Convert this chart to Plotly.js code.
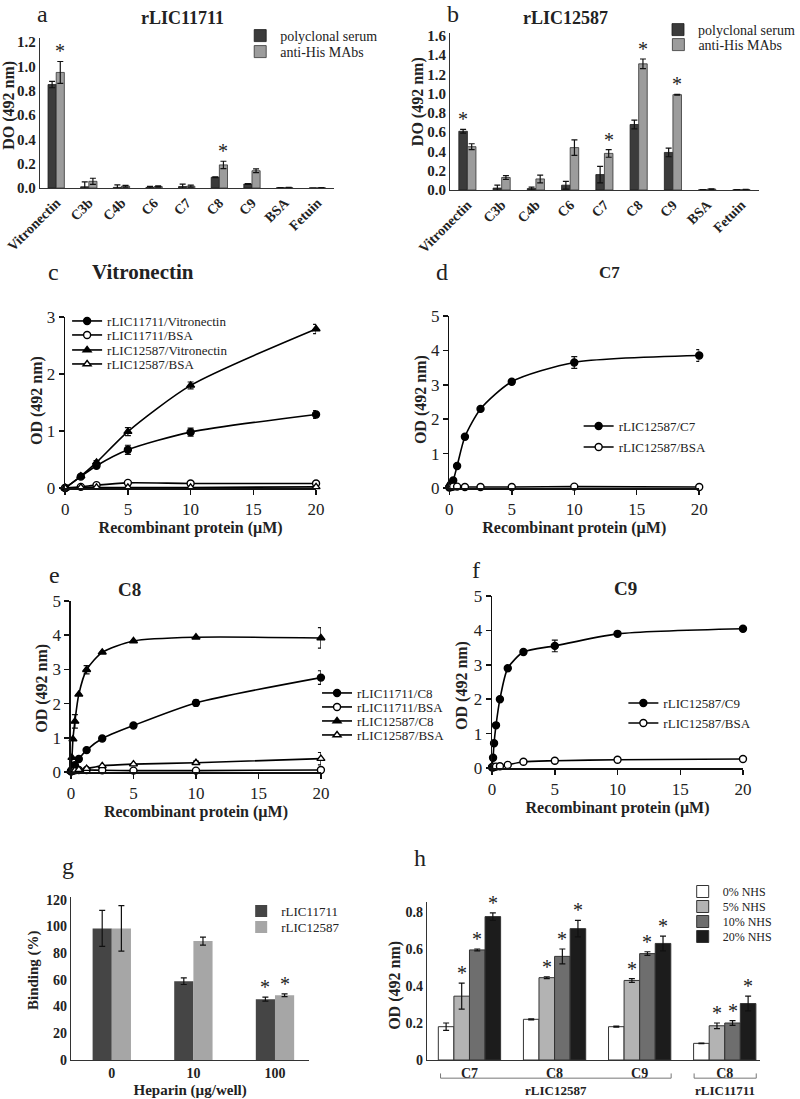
<!DOCTYPE html>
<html><head><meta charset="utf-8">
<script src="https://cdn.plot.ly/plotly-3.0.1.min.js"></script>
<style>body{margin:0;background:#fff}</style>
</head><body><div id="chart" style="width:800px;height:1099px"></div>
<script>
// ---------- DATA ----------
const barCats = ['Vitronectin','C3b','C4b','C6','C7','C8','C9','BSA','Fetuin'];
// panel a: rLIC11711
const aPoly    = [0.85,0.01,0.005,0.005,0.012,0.088,0.033,0.002,0.0];
const aPolyErr = [0.026,0.04,0.02,0.008,0.02,0.003,0.004,0.002,0.0];
const aHis     = [0.95,0.055,0.015,0.012,0.015,0.19,0.142,0.003,0.002];
const aHisErr  = [0.09,0.025,0.007,0.005,0.008,0.03,0.015,0.002,0.001];
const aPolySig = [0,0,0,0,0,0,0,0,0];
const aHisSig  = [1,0,0,0,0,1,0,0,0];
// panel b: rLIC12587
const bPoly    = [0.61,0.02,0.015,0.05,0.16,0.68,0.39,0.002,0.002];
const bPolyErr = [0.02,0.03,0.015,0.04,0.085,0.045,0.045,0.001,0.001];
const bHis     = [0.45,0.13,0.115,0.44,0.38,1.31,0.99,0.01,0.005];
const bHisErr  = [0.03,0.02,0.04,0.08,0.04,0.05,0.004,0.003,0.002];
const bPolySig = [1,0,0,0,0,0,0,0,0];
const bHisSig  = [0,0,0,0,1,1,1,0,0];
// panel c: Vitronectin binding
const cConc = [0,1.25,2.5,5,10,20];
const c11711Vn    = [0,0.2,0.39,0.67,0.98,1.29];
const c11711VnErr = [0,0.02,0.03,0.08,0.07,0.07];
const c11711Bsa   = [0,0.02,0.05,0.09,0.08,0.08];
const c12587Vn    = [0,0.21,0.45,0.99,1.8,2.79];
const c12587VnErr = [0,0.02,0.03,0.07,0.06,0.08];
const c12587Bsa   = [0,0.01,0.01,0.01,0.01,0.02];
// panels d-f: complement components
const conc = [0,0.078,0.156,0.3125,0.625,1.25,2.5,5,10,20];
const dC7     = [0.02,0.07,0.12,0.22,0.64,1.49,2.3,3.09,3.65,3.85];
const dC7Err  = [0,0,0,0,0,0,0,0.03,0.17,0.17];
const dBsa    = [0.02,0.03,0.03,0.04,0.04,0.03,0.03,0.03,0.04,0.03];
const e11711C8    = [0.02,0.06,0.12,0.2,0.38,0.64,0.98,1.36,2.02,2.76];
const e11711C8Err = [0,0,0,0,0,0,0,0,0.08,0.2];
const e11711Bsa   = [0.02,0.03,0.04,0.05,0.06,0.06,0.05,0.04,0.04,0.06];
const e12587C8    = [0.05,0.42,0.96,1.48,2.27,2.99,3.5,3.83,3.94,3.92];
const e12587C8Err = [0,0,0,0.2,0,0.12,0,0,0,0.3];
const e12587Bsa   = [0.02,0.03,0.04,0.05,0.07,0.1,0.18,0.23,0.27,0.39];
const e12587BsaErr= [0,0,0,0,0,0,0,0,0.05,0.18];
const fC9     = [0.02,0.3,0.72,1.24,2.0,2.9,3.37,3.55,3.9,4.05];
const fC9Err  = [0,0,0,0,0,0,0,0.17,0,0.05];
const fBsa    = [0.02,0.02,0.03,0.04,0.05,0.09,0.18,0.21,0.24,0.26];
// panel g: heparin inhibition
const gCats = ['0','10','100'];
const g11711    = [98.5,59,45.5];
const g11711Err = [13.5,2.5,1.5];
const g12587    = [98.5,89,48.5];
const g12587Err = [17,3,1];
const g11711Sig = [0,0,1];
const g12587Sig = [0,0,1];
// panel h: NHS
const hCats = ['C7','C8','C9','C8'];
const hGroups = ['rLIC12587','rLIC11711'];
const hSeries = ['0% NHS','5% NHS','10% NHS','20% NHS'];
const h0  = [0.18,0.22,0.18,0.09];
const h0e = [0.02,0.003,0.003,0.002];
const h5  = [0.345,0.445,0.43,0.185];
const h5e = [0.07,0.005,0.01,0.015];
const h10 = [0.595,0.56,0.575,0.2];
const h10e= [0.005,0.04,0.01,0.013];
const h20 = [0.775,0.71,0.63,0.305];
const h20e= [0.02,0.045,0.04,0.04];
const hSig = [[0,0,0,0],[1,1,1,1],[1,1,1,1],[1,1,1,1]];

// ---------- HELPERS ----------
const W = 800, H = 1099;
const SERIF = '"Liberation Serif", "Times New Roman", serif';
const X = p => p / W;
const Y = p => 1 - p / H;
const idx = arr => arr.map((_, i) => i);
const traces = [];
const annotations = [];
const shapes = [];
const layout = {};
let legCount = 0;

// each legend entry gets its own legend box, placed at (text start x, row centre y)
function newLegend(textX, rowY, size, isBar){
  legCount += 1;
  const key = legCount === 1 ? 'legend' : 'legend' + legCount;
  layout[key] = {x:X(textX - (isBar ? 33 : 38)), y:Y(rowY - 15), xanchor:'left', yanchor:'top',
    bgcolor:'rgba(0,0,0,0)', borderwidth:0, font:{family:SERIF, size:size, color:'#222'},
    itemwidth:30, tracegroupgap:0, itemclick:false, itemdoubleclick:false};
  return key;
}

function errObj(arr){ return {type:'data', array:arr, visible:true, color:'#111', thickness:1.2, width:3}; }

function barTrace(xa, ya, cats, vals, errs, name, color, lineColor, lineW, width, offset, legend){
  return {type:'bar', xaxis:xa, yaxis:ya, x:idx(cats), y:vals, name:name,
    width:width, offset:offset, legend:legend,
    marker:{color:color, line:{color:lineColor, width:lineW}},
    error_y:errObj(errs), hoverinfo:'skip'};
}
function stars(xa, ya, vals, errs, sig, width, offset){
  sig.forEach((s, i) => {
    if (!s) return;
    annotations.push({xref:xa, yref:ya, x:i + offset + width/2, y:vals[i] + errs[i],
      text:'*', showarrow:false, yanchor:'bottom', yshift:-3,
      font:{family:SERIF, size:20, color:'#222'}});
  });
}
function lineTrace(xa, ya, xs, ys, errs, name, symbol, open, legend){
  return {type:'scatter', mode:'lines+markers', xaxis:xa, yaxis:ya, x:xs, y:ys, name:name, legend:legend,
    line:{color:'#000', width:1.6, shape:'spline', smoothing:0.7},
    marker:{symbol:symbol, size:7, color: open ? '#fff' : '#000', line:{color:'#000', width:1.4}},
    error_y: errs ? errObj(errs) : undefined, cliponaxis:false, hoverinfo:'skip'};
}

// ---------- PANEL a ----------
traces.push(barTrace('x','y',barCats,aPoly,aPolyErr,'polyclonal serum','#3b3b3b','#1a1a1a',0.8,0.25,-0.25,newLegend(280,35,14,true)));
traces.push(barTrace('x','y',barCats,aHis,aHisErr,'anti-His MAbs','#9c9c9c','#333',0.8,0.25,0,newLegend(280,51,14,true)));
stars('x','y',aPoly,aPolyErr,aPolySig,0.25,-0.25);
stars('x','y',aHis,aHisErr,aHisSig,0.25,0);
// ---------- PANEL b ----------
traces.push(barTrace('x2','y2',barCats,bPoly,bPolyErr,'polyclonal serum','#3b3b3b','#1a1a1a',0.8,0.25,-0.25,newLegend(710,29,14,true)));
traces.push(barTrace('x2','y2',barCats,bHis,bHisErr,'anti-His MAbs','#9c9c9c','#333',0.8,0.25,0,newLegend(710,44,14,true)));
stars('x2','y2',bPoly,bPolyErr,bPolySig,0.25,-0.25);
stars('x2','y2',bHis,bHisErr,bHisSig,0.25,0);
// ---------- PANEL c ----------
traces.push(lineTrace('x3','y3',cConc,c11711Vn,c11711VnErr,'rLIC11711/Vitronectin','circle',false,newLegend(107,321,13)));
traces.push(lineTrace('x3','y3',cConc,c11711Bsa,null,'rLIC11711/BSA','circle',true,newLegend(107,335,13)));
traces.push(lineTrace('x3','y3',cConc,c12587Vn,c12587VnErr,'rLIC12587/Vitronectin','triangle-up',false,newLegend(107,350,13)));
traces.push(lineTrace('x3','y3',cConc,c12587Bsa,null,'rLIC12587/BSA','triangle-up',true,newLegend(107,364,13)));
// ---------- PANEL d ----------
traces.push(lineTrace('x4','y4',conc,dC7,dC7Err,'rLIC12587/C7','circle',false,newLegend(633,426,13)));
traces.push(lineTrace('x4','y4',conc,dBsa,null,'rLIC12587/BSA','circle',true,newLegend(633,447,13)));
// ---------- PANEL e ----------
traces.push(lineTrace('x5','y5',conc,e11711C8,e11711C8Err,'rLIC11711/C8','circle',false,newLegend(364,693,13)));
traces.push(lineTrace('x5','y5',conc,e11711Bsa,null,'rLIC11711/BSA','circle',true,newLegend(364,707,13)));
traces.push(lineTrace('x5','y5',conc,e12587C8,e12587C8Err,'rLIC12587/C8','triangle-up',false,newLegend(364,721,13)));
traces.push(lineTrace('x5','y5',conc,e12587Bsa,e12587BsaErr,'rLIC12587/BSA','triangle-up',true,newLegend(364,735,13)));
// ---------- PANEL f ----------
traces.push(lineTrace('x6','y6',conc,fC9,fC9Err,'rLIC12587/C9','circle',false,newLegend(679,703,13)));
traces.push(lineTrace('x6','y6',conc,fBsa,null,'rLIC12587/BSA','circle',true,newLegend(679,723,13)));
// ---------- PANEL g ----------
traces.push(barTrace('x7','y7',gCats,g11711,g11711Err,'rLIC11711','#454545','#454545',0,0.235,-0.235,newLegend(281,911,13,true)));
traces.push(barTrace('x7','y7',gCats,g12587,g12587Err,'rLIC12587','#a6a6a6','#a6a6a6',0,0.235,0,newLegend(281,927,13,true)));
stars('x7','y7',g11711,g11711Err,g11711Sig,0.235,-0.235);
stars('x7','y7',g12587,g12587Err,g12587Sig,0.235,0);
// ---------- PANEL h ----------
const hVals = [h0,h5,h10,h20], hErrs = [h0e,h5e,h10e,h20e];
const hColors = ['#ffffff','#b3b3b3','#6e6e6e','#1c1c1c'];
const hRows = [892,907,922,937];
const hw = 0.183;
hSeries.forEach((nm, k) => {
  const off = -2*hw + k*hw;
  traces.push(barTrace('x8','y8',hCats,hVals[k],hErrs[k],nm,hColors[k],'#333',1,hw,off,newLegend(735,hRows[k],12,true)));
  stars('x8','y8',hVals[k],hErrs[k],hSig[k],hw,off);
});

// ---------- AXES ----------
const lineAx = {showline:true, linecolor:'#111', linewidth:1.5, showgrid:false, zeroline:false,
  ticks:'outside', ticklen:5, tickwidth:1.5, tickcolor:'#111', tickfont:{family:SERIF, size:17, color:'#222'}};
const barAx = {showline:true, linecolor:'#333', linewidth:1.2, showgrid:false, zeroline:false, ticks:'',
  tickfont:{family:SERIF, size:14, color:'#222', weight:700}};
const barAxY = Object.assign({}, barAx, {tickfont:{family:SERIF, size:15, color:'#222', weight:700}});
const tFont = s => ({family:SERIF, size:s, color:'#222', weight:700});
const xTitle = {text:'Recombinant protein (µM)', font:tFont(16), standoff:2};

Object.assign(layout, {
  width:W, height:H, margin:{l:0,r:0,t:0,b:0}, paper_bgcolor:'#fff', plot_bgcolor:'rgba(0,0,0,0)',
  barmode:'overlay', showlegend:true, font:{family:SERIF, color:'#222'},
  xaxis: Object.assign({}, barAx, {domain:[X(41),X(343)], anchor:'y', range:[-0.5,8.5],
    tickvals:idx(barCats), ticktext:barCats, tickangle:-45}),
  yaxis: Object.assign({}, barAxY, {domain:[Y(188),Y(38)], anchor:'x', range:[0,1.233], dtick:0.2, tickformat:'.1f'}),
  xaxis2: Object.assign({}, barAx, {domain:[X(463),X(780)], anchor:'y2', range:[-0.5,8.5],
    tickvals:idx(barCats), ticktext:barCats, tickangle:-45}),
  yaxis2: Object.assign({}, barAxY, {domain:[Y(190),Y(33)], anchor:'x2', range:[0,1.63], dtick:0.2, tickformat:'.1f'}),
  xaxis3: Object.assign({}, lineAx, {domain:[X(67),X(325)], anchor:'y3', range:[0,20], dtick:5, title:xTitle}),
  yaxis3: Object.assign({}, lineAx, {domain:[Y(488),Y(317)], anchor:'x3', range:[0,3], dtick:1}),
  xaxis4: Object.assign({}, lineAx, {domain:[X(462),X(719)], anchor:'y4', range:[0,20], dtick:5, title:xTitle}),
  yaxis4: Object.assign({}, lineAx, {domain:[Y(488),Y(316)], anchor:'x4', range:[0,5], dtick:1}),
  xaxis5: Object.assign({}, lineAx, {domain:[X(73),X(330)], anchor:'y5', range:[0,20], dtick:5, title:xTitle}),
  yaxis5: Object.assign({}, lineAx, {domain:[Y(772),Y(601)], anchor:'x5', range:[0,5], dtick:1}),
  xaxis6: Object.assign({}, lineAx, {domain:[X(506),X(764)], anchor:'y6', range:[0,20], dtick:5, title:xTitle}),
  yaxis6: Object.assign({}, lineAx, {domain:[Y(768),Y(596)], anchor:'x6', range:[0,5], dtick:1}),
  xaxis7: Object.assign({}, barAx, {domain:[X(73),X(318)], anchor:'y7', range:[-0.5,2.42],
    tickvals:idx(gCats), ticktext:gCats, title:{text:'Heparin (µg/well)', font:tFont(15), standoff:4}}),
  yaxis7: Object.assign({}, barAx, {domain:[Y(1060),Y(897)], anchor:'x7', range:[0,122], dtick:20}),
  xaxis8: Object.assign({}, barAx, {domain:[X(439),X(782)], anchor:'y8', range:[-0.5,3.42],
    tickvals:idx(hCats), ticktext:hCats}),
  yaxis8: Object.assign({}, barAx, {domain:[Y(1060),Y(902)], anchor:'x8', range:[0,0.854], dtick:0.2}),
  annotations: annotations,
  shapes: shapes
});

// free text: panel letters, panel titles, y-axis titles
function txt(x, y, t, size, bold, angle){
  annotations.push({xref:'paper', yref:'paper', x:X(x), y:Y(y), text:t, showarrow:false, textangle:angle || 0,
    xanchor:'center', yanchor:'middle', font:{family:SERIF, size:size, color:'#222', weight: bold ? 700 : 400}});
}
txt(44,14,'a',24,false);   txt(188,18,'rLIC11711',18,true);
txt(466,14,'b',24,false);  txt(582,18,'rLIC12587',18,true);
txt(55,272,'c',24,false);  txt(147,272,'Vitronectin',21,true);
txt(455,272,'d',24,false); txt(627,272,'C7',17,true);
txt(56,575,'e',24,false);  txt(133,589,'C8',19,true);
txt(489,570,'f',24,false); txt(643,588,'C9',19,true);
txt(70,866,'g',24,false);
txt(432,858,'h',24,false);
txt(9,105,'DO (492 nm)',16,true,-90);
txt(430,102,'DO (492 nm)',16,true,-90);
txt(38,400,'OD (492 nm)',16,true,-90);
txt(433,400,'OD (492 nm)',16,true,-90);
txt(43,688,'OD (492 nm)',16,true,-90);
txt(475,685,'OD (492 nm)',16,true,-90);
txt(35,970,'Binding (%)',15,true,-90);
txt(406,985,'OD (492 nm)',16,true,-90);

// group brackets under panel h
const brackets = [[-0.34,2.37,hGroups[0]],[2.64,3.37,hGroups[1]]];
brackets.forEach(b => {
  shapes.push({type:'path', xref:'x8', yref:'y8 domain',
    path:'M '+b[0]+' -0.085 L '+b[0]+' -0.115 L '+b[1]+' -0.115 L '+b[1]+' -0.085',
    line:{color:'#777', width:1}});
  annotations.push({xref:'x8', yref:'y8 domain', x:(b[0]+b[1])/2, y:-0.19, text:b[2], showarrow:false,
    yanchor:'middle', font:{family:SERIF, size:13, color:'#222', weight:700}});
});

Plotly.newPlot('chart', traces, layout, {staticPlot:true});
</script></body></html>
